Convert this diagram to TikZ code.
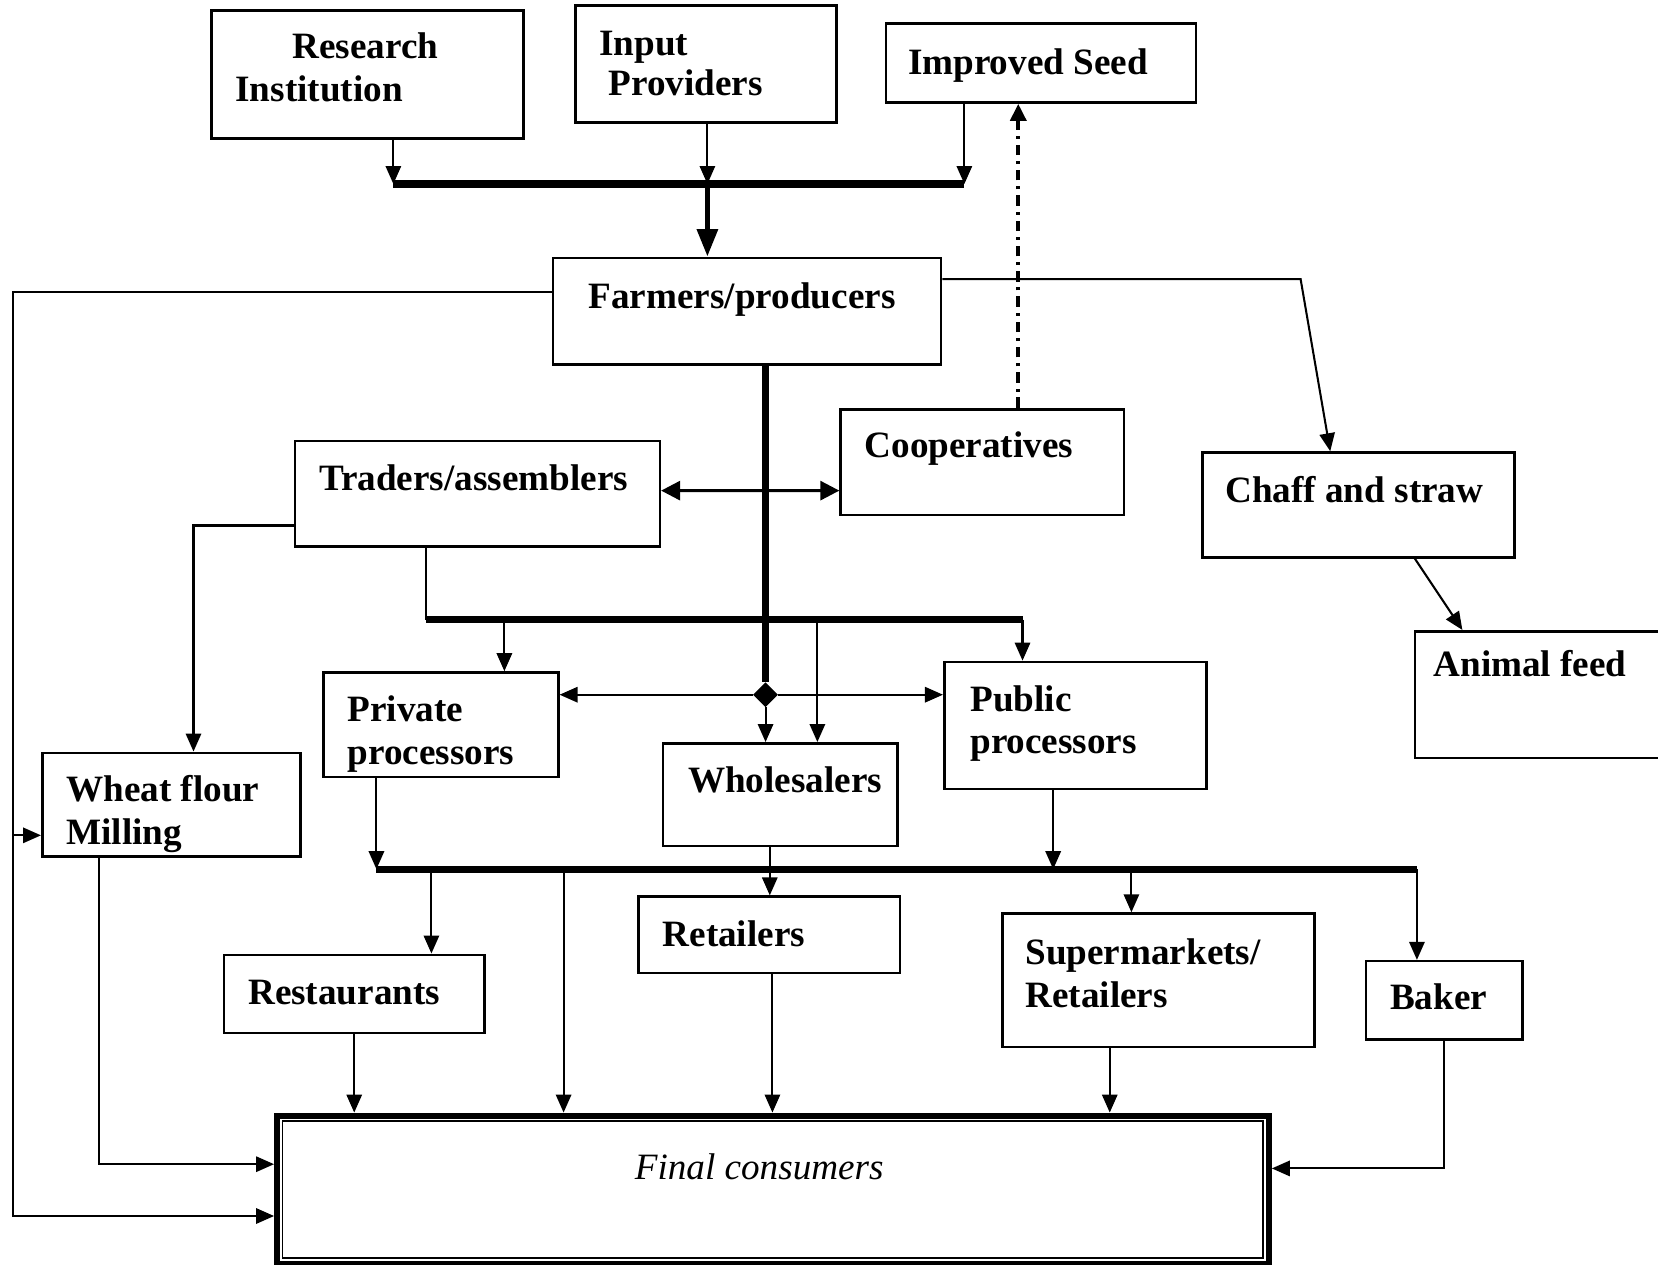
\documentclass[tikz,border=0pt]{standalone}
\usepackage{fontspec}
\setmainfont{Liberation Serif}
\usepackage{tikz}
\usetikzlibrary{arrows.meta,shapes.geometric,positioning}

\tikzset{
  box/.style={draw, line width=0.7pt, inner sep=0pt},
  lbl/.style={anchor=mid west, inner sep=0pt, font=\bfseries},
  arr/.style={-{Triangle[length=1.7mm,width=1.45mm]}, line width=0.55pt},
  bus/.style={line width=1.9pt},
  trunk/.style={line width=2pt}
}

\begin{document}
\begin{tikzpicture}
        % wheat value chain actors
        \useasboundingbox (0,0) rectangle (15.68,-11.96);

        \node[box, minimum width=2.95cm, minimum height=1.21cm] (res) at (3.475,-0.705) {};
        \node[box, minimum width=2.47cm, minimum height=1.11cm] (inp) at (6.675,-0.605) {};
        \node[box, minimum width=2.93cm, minimum height=0.75cm] (seed) at (9.845,-0.595) {};
        \node[box, minimum width=3.67cm, minimum height=1.01cm] (farm) at (7.065,-2.945) {};
        \node[box, minimum width=2.68cm, minimum height=1.00cm] (coop) at (9.29,-4.37) {};
        \node[box, minimum width=3.45cm, minimum height=1.00cm] (trad) at (4.515,-4.67) {};
        \node[box, minimum width=2.95cm, minimum height=0.99cm] (chaff) at (12.845,-4.775) {};
        \node[box, minimum width=2.42cm, minimum height=1.20cm] (feed) at (14.59,-6.57) {};
        \node[box, minimum width=2.22cm, minimum height=0.99cm] (priv) at (4.17,-6.855) {};
        \node[box, minimum width=2.22cm, minimum height=0.97cm] (whole) at (7.38,-7.515) {};
        \node[box, minimum width=2.48cm, minimum height=1.20cm] (pub) at (10.17,-6.86) {};
        \node[box, minimum width=2.44cm, minimum height=0.98cm] (mill) at (1.62,-7.61) {};
        \node[box, minimum width=2.46cm, minimum height=0.74cm] (rest) at (3.35,-9.40) {};
        \node[box, minimum width=2.47cm, minimum height=0.72cm] (ret) at (7.275,-8.84) {};
        \node[box, minimum width=2.95cm, minimum height=1.26cm] (sup) at (10.955,-9.27) {};
        \node[box, minimum width=1.48cm, minimum height=0.74cm] (bak) at (13.66,-9.46) {};
        \node[draw, line width=1.6pt, inner sep=0pt, minimum width=9.38cm, minimum height=1.40cm] (fin) at (7.31,-11.25) {};
        \draw[line width=0.5pt] ([shift={(0.08,-0.08)}]fin.north west) rectangle ([shift={(-0.08,0.08)}]fin.south east);

        \node[lbl] (tres1) at (2.76,-0.47) {Research};
        \node[lbl] (tres2) at (2.22,-0.88) {Institution};
        \node[lbl] (tinp1) at (5.66,-0.44) {Input};
        \node[lbl] (tinp2) at (5.75,-0.82) {Providers};
        \node[lbl] (tseed) at (8.58,-0.62) {Improved Seed};
        \node[lbl] (tfarm) at (5.56,-2.84) {Farmers/producers};
        \node[lbl] (tcoop) at (8.17,-4.25) {Cooperatives};
        \node[lbl] (ttrad) at (3.01,-4.56) {Traders/assemblers};
        \node[lbl] (tchaff) at (11.58,-4.67) {Chaff and straw};
        \node[lbl] (tfeed) at (13.55,-6.32) {Animal feed};
        \node[lbl] (tpriv1) at (3.28,-6.74) {Private};
        \node[lbl] (tpriv2) at (3.28,-7.15) {processors};
        \node[lbl] (twhole) at (6.50,-7.41) {Wholesalers};
        \node[lbl] (tpub1) at (9.17,-6.65) {Public};
        \node[lbl] (tpub2) at (9.17,-7.05) {processors};
        \node[lbl] (tmill1) at (0.62,-7.50) {Wheat flour};
        \node[lbl] (tmill2) at (0.62,-7.91) {Milling};
        \node[lbl] (trest) at (2.34,-9.42) {Restaurants};
        \node[lbl] (tret) at (6.26,-8.87) {Retailers};
        \node[lbl] (tsup1) at (9.69,-9.04) {Supermarkets/};
        \node[lbl] (tsup2) at (9.69,-9.45) {Retailers};
        \node[lbl] (tbak) at (13.14,-9.47) {Baker};
        \node[anchor=mid, inner sep=0pt, font=\itshape] (tfin) at (7.18,-11.07) {Final consumers};

        % inputs to farmers
        \coordinate (tL) at (3.72,-1.74);
        \coordinate (tM) at (6.69,-1.74);
        \coordinate (tR) at (9.12,-1.74);
        \draw[arr] (res.south -| tL) -- (tL);
        \draw[arr] (inp.south -| tM) -- (tM);
        \draw[arr] (seed.south -| tR) -- (tR);
        \draw[bus] (tL) -- (tR);
        \draw[-{Triangle[length=2.6mm,width=1.9mm]}, line width=1.5pt] (tM) -- (tM |- farm.north);

        \coordinate (dd) at (9.63,-2);
        \draw[-{Triangle[length=1.6mm,width=1.5mm]}, line width=1pt, dash pattern=on 2.8pt off 1.6pt on 0.8pt off 1.6pt]
            (dd |- coop.north) -- (dd |- seed.south);

        % farmers to the rest
        \coordinate (lc) at (0.12,-11.50);
        \coordinate (lw) at (0.12,-7.90);
        \draw[arr] ([yshift=1.85mm]farm.west) -| (lc) -- (lc -| fin.west);
        \draw[arr] (lw) -- (lw -| mill.west);
        \coordinate (rc) at (12.30,-2.64);
        \draw[arr] (farm.east |- rc) -- (rc) -- ([xshift=-2.65mm]chaff.north);
        \draw[arr] ([xshift=5.35mm]chaff.south) -- ([xshift=-7.6mm]feed.north);

        \node[draw, fill, diamond, minimum width=0.22cm, minimum height=0.22cm, inner sep=0pt] (dia) at (7.24,-6.57) {};
        \draw[trunk] (farm.south -| dia) -- (dia.north);
        \draw[arr] (dia) -- (dia -| priv.east);
        \draw[arr] (dia) -- (dia -| pub.west);
        \draw[arr] (dia) -- (dia |- whole.north);

        \draw[{Triangle[length=1.8mm,width=1.8mm]}-{Triangle[length=1.8mm,width=1.8mm]}, line width=0.8pt]
            ([yshift=0.3mm]trad.east) -- ([yshift=-2.7mm]coop.west);
        \draw[arr] ([yshift=-3mm]trad.west) -| ([xshift=2.1mm]mill.north);

        \coordinate (b1L) at (4.03,-5.86);
        \coordinate (b1P) at (4.77,-5.86);
        \coordinate (b1W) at (7.73,-5.86);
        \coordinate (b1R) at (9.67,-5.86);
        \draw[line width=0.55pt] (trad.south -| b1L) -- (b1L);
        \draw[bus] (b1L) -- (b1R);
        \draw[arr] (b1P) -- (b1P |- priv.north);
        \draw[arr] (b1W) -- (b1W |- whole.north);
        \draw[arr] (b1R) -- (b1R |- pub.north);

        % processors to retail
        \coordinate (b2L) at (3.56,-8.22);
        \coordinate (b2M) at (7.28,-8.22);
        \coordinate (b2U) at (9.96,-8.22);
        \coordinate (b2R) at (13.40,-8.22);
        \draw[arr] (priv.south -| b2L) -- (b2L);
        \draw[arr] (pub.south -| b2U) -- (b2U);
        \draw[bus] (b2L) -- (b2R);
        \draw[arr] (whole.south -| b2M) -- (b2M |- ret.north);
        \coordinate (dRest) at ([xshift=7.3mm]rest.north);
        \coordinate (dFin) at ([xshift=-19.8mm]fin.north);
        \coordinate (dSup) at ([xshift=-2.55mm]sup.north);
        \coordinate (dBak) at ([xshift=-2.6mm]bak.north);
        \foreach \d in {dRest,dFin,dSup,dBak}
            \draw[arr] (b2L -| \d) -- (\d);

        % to final consumers
        \draw[arr] (rest.south) -- (rest.south |- fin.north);
        \draw[arr] ([xshift=0.3mm]ret.south) -- ([xshift=0.3mm]ret.south |- fin.north);
        \coordinate (sS) at ([xshift=-4.6mm]sup.south);
        \draw[arr] (sS) -- (sS |- fin.north);
        \draw[arr] (bak.south) |- ([yshift=2mm]fin.east);
        \draw[arr] ([xshift=-6.8mm]mill.south) |- ([yshift=2.4mm]fin.west);
    \end{tikzpicture}
\end{document}
